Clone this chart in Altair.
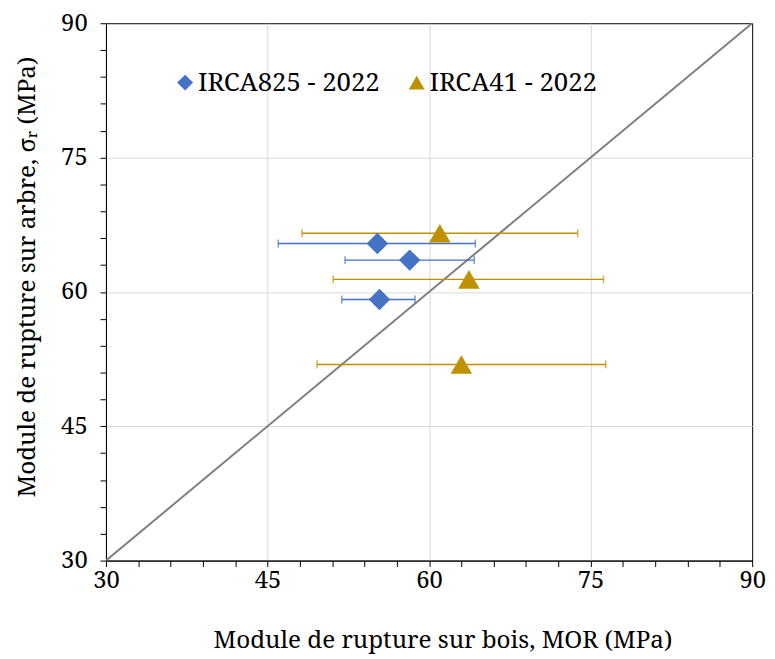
import altair as alt
import pandas as pd

# ---- data ----
series_names = ["IRCA825 - 2022", "IRCA41 - 2022"]
colors = ["#4472C4", "#BF9000"]
shapes = ["diamond", "triangle-up"]

a_mor = [55.2, 58.2, 55.4]
a_mor_lo = [46.0, 52.2, 51.9]
a_mor_hi = [64.3, 64.2, 58.7]
a_sigma = [65.4, 63.55, 59.15]

b_mor = [61.0, 63.7, 63.0]
b_mor_lo = [48.2, 51.1, 49.6]
b_mor_hi = [73.8, 76.2, 76.4]
b_sigma = [66.55, 61.4, 51.9]

diag = [30, 90]
tick_values = list(range(30, 91, 3))

rows = []
for name, mor, lo, hi, sig in [
    (series_names[0], a_mor, a_mor_lo, a_mor_hi, a_sigma),
    (series_names[1], b_mor, b_mor_lo, b_mor_hi, b_sigma),
]:
    for m, l, h, s in zip(mor, lo, hi, sig):
        rows.append({"series": name, "mor": m, "lo": l, "hi": h, "sigma": s})
df = pd.DataFrame(rows)
diag_df = pd.DataFrame({"x": diag, "y": diag})

FONT = "Noto Serif"
grid_cond = {"condition": {"test": "datum.value % 15 === 0 && datum.value > 30 && datum.value < 90",
                           "value": "#d9d9d9"}, "value": "transparent"}

x_scale = alt.Scale(domain=[30, 90], nice=False, zero=False)
y_scale = alt.Scale(domain=[30, 90], nice=False, zero=False)

x_axis = alt.Axis(
    values=tick_values,
    labelExpr="datum.value % 15 === 0 ? datum.label : ''",
    labelOverlap=False,
    labelFlush=False,
    title="Module de rupture sur bois, MOR (MPa)",
    gridColor=grid_cond,
    tickSize=6,
    labelPadding=2,
    titlePadding=37,
    titleX=340,
)
y_axis = alt.Axis(
    values=tick_values,
    labelExpr="datum.value % 15 === 0 ? datum.label : ''",
    labelOverlap=False,
    labelFlush=False,
    title="Module de rupture sur arbre, σᵣ (MPa)",
    gridColor=grid_cond,
    tickSize=6,
    labelPadding=13,
    titlePadding=21,
    titleY=256,
)

legend = alt.Legend(
    title=None,
    orient="none",
    legendX=67,
    legendY=47,
    direction="horizontal",
    labelFont=FONT,
    labelFontSize=26,
    labelColor="black",
    labelLimit=400,
    symbolSize=260,
    symbolOpacity=1,
    labelOffset=0,
    columnPadding=24,
    padding=0,
)

color_enc = alt.Color("series:N", scale=alt.Scale(domain=series_names, range=colors), legend=legend)
shape_enc = alt.Shape("series:N", scale=alt.Scale(domain=series_names, range=shapes), legend=legend)

diag_line = alt.Chart(diag_df).mark_line(color="#7f7f7f", strokeWidth=2, clip=True).encode(
    x=alt.X("x:Q", scale=x_scale, axis=x_axis),
    y=alt.Y("y:Q", scale=y_scale, axis=y_axis),
)

base = alt.Chart(df)

err = base.mark_rule(strokeWidth=1.5).encode(
    x=alt.X("lo:Q", scale=x_scale, axis=x_axis),
    x2="hi:Q",
    y=alt.Y("sigma:Q", scale=y_scale, axis=y_axis),
    color=color_enc,
)

caps = base.transform_fold(["lo", "hi"], as_=["end", "xv"]).mark_tick(
    orient="vertical", size=8, thickness=1.5
).encode(
    x=alt.X("xv:Q", scale=x_scale, axis=x_axis),
    y=alt.Y("sigma:Q", scale=y_scale, axis=y_axis),
    color=color_enc,
)

points = base.mark_point(filled=True, opacity=1, size=470).encode(
    x=alt.X("mor:Q", scale=x_scale, axis=x_axis),
    y=alt.Y("sigma:Q", scale=y_scale, axis=y_axis),
    color=color_enc,
    shape=shape_enc,
)

chart = (
    alt.layer(diag_line, err, caps, points)
    .properties(
        width=653,
        height=543,
        autosize=alt.AutoSizeParams(type="none"),
        padding={"left": 99, "top": 12, "right": 15, "bottom": 92},
        background="white",
    )
    .configure(font=FONT)
    .configure_view(stroke="black", strokeWidth=1)
    .configure_axis(
        labelFont=FONT,
        titleFont=FONT,
        labelFontSize=24,
        titleFontSize=24.5,
        labelColor="black",
        titleColor="black",
        titleFontWeight="normal",
        domainColor="black",
        tickColor="black",
        grid=True,
    )
    .configure_legend(labelFont=FONT, symbolStrokeWidth=0)
)

chart.save("out.html", embed_options={"renderer": "svg", "actions": False})
